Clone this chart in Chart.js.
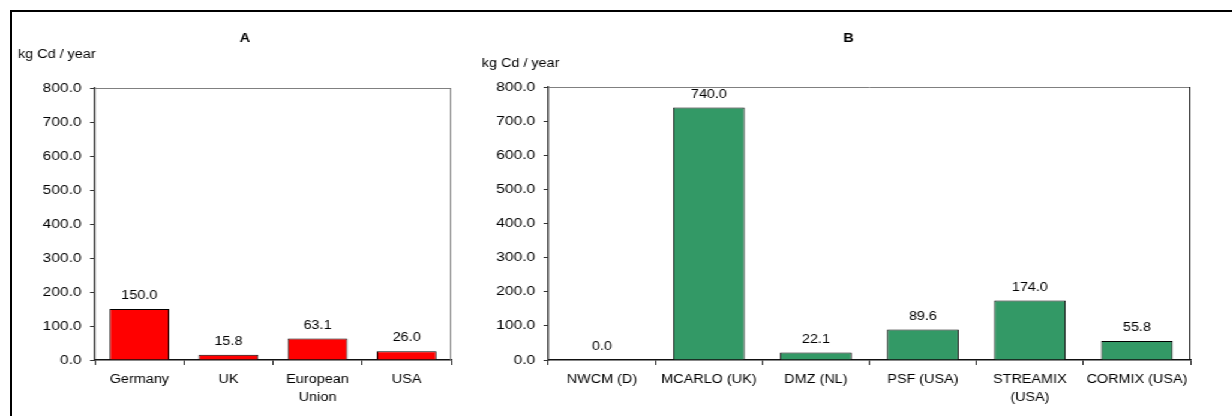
<!DOCTYPE html>
<html>
<head>
<meta charset="utf-8">
<script src="https://cdn.jsdelivr.net/npm/chart.js@4.4.0/dist/chart.umd.min.js"></script>
<style>
  body { margin: 0; background: #fff; overflow: hidden; }
  #frame { position: absolute; left: 10px; top: 10px; width: 1240px; height: 420px; border-top: 2px solid #000; border-left: 2px solid #000; }
  /* the reference is stretched sideways, so the whole stage is too */
  #stage { position: absolute; left: 0; top: 0; width: 1027px; height: 416px; transform: scaleX(1.2); transform-origin: 0 0; }
  #boxA { position: absolute; left: 0; top: 0; width: 400px; height: 416px; }
  #boxB { position: absolute; left: 400px; top: 0; width: 620px; height: 416px; }
</style>
</head>
<body>
<div id="frame"></div>
<div id="stage">
  <div id="boxA"><canvas id="chartA"></canvas></div>
  <div id="boxB"><canvas id="chartB"></canvas></div>
</div>
<script>
var categoriesA = ['Germany', 'UK', ['European', 'Union'], 'USA'];
var valuesA = [150.0, 15.8, 63.1, 26.0];

var categoriesB = ['NWCM (D)', 'MCARLO (UK)', 'DMZ (NL)', 'PSF (USA)', ['STREAMIX', '(USA)'], 'CORMIX (USA)'];
var valuesB = [0.0, 740.0, 22.1, 89.6, 174.0, 55.8];

var yMin = 0, yMax = 800, yStep = 100;
var unitLabel = 'kg Cd / year';

var FONT = 'Arial, "Liberation Sans", sans-serif';

// titles, unit text, plot frame and value labels
var panelText = {
  id: 'panelText',
  afterDraw: function(chart, args, opts) {
    var ctx = chart.ctx;
    var area = chart.chartArea;
    ctx.save();

    ctx.lineWidth = 1;
    ctx.strokeStyle = '#808080';
    ctx.beginPath();
    ctx.moveTo(area.left, area.top + 0.5);
    ctx.lineTo(area.right, area.top + 0.5);
    ctx.stroke();
    ctx.strokeStyle = opts.rightColor;
    ctx.beginPath();
    ctx.moveTo(area.right - 0.5, area.top);
    ctx.lineTo(area.right - 0.5, area.bottom);
    ctx.stroke();

    ctx.fillStyle = '#000';
    ctx.font = 'bold 12px ' + FONT;
    ctx.textAlign = 'center';
    ctx.textBaseline = 'middle';
    ctx.fillText(opts.title, opts.titleX, 39);

    ctx.font = '12px ' + FONT;
    ctx.textAlign = 'left';
    ctx.fillText(unitLabel, opts.unitX, opts.unitY);

    ctx.textAlign = 'center';
    var vals = chart.data.datasets[0].data;
    chart.getDatasetMeta(0).data.forEach(function(bar, i) {
      ctx.fillText(vals[i].toFixed(1), bar.x, bar.y - 13);
    });
    ctx.restore();
  }
};

function makePanel(canvasId, labels, values, color, p) {
  return new Chart(document.getElementById(canvasId), {
    type: 'bar',
    data: {
      labels: labels,
      datasets: [{
        data: values,
        backgroundColor: color,
        borderColor: '#000',
        borderWidth: 1,
        categoryPercentage: 1,
        barPercentage: 0.67
      }]
    },
    options: {
      responsive: true,
      maintainAspectRatio: false,
      animation: false,
      layout: { padding: { top: p.top, right: p.right, bottom: 0, left: 0 } },
      plugins: {
        legend: { display: false },
        tooltip: { enabled: false },
        panelText: p
      },
      scales: {
        x: {
          grid: { drawOnChartArea: false, tickLength: 5, color: '#222' },
          border: { color: '#111', width: 1.5 },
          ticks: { color: '#000', padding: 6, maxRotation: 0, autoSkip: false, font: { family: FONT, size: 12, lineHeight: 1.5 } },
          afterFit: function(scale) { scale.height = 416 - 360; }
        },
        y: {
          min: yMin,
          max: yMax,
          grid: { drawOnChartArea: false, tickLength: 4, color: '#333' },
          border: { color: '#333', width: 1.4 },
          ticks: {
            stepSize: yStep,
            color: '#000',
            padding: 7,
            font: { family: FONT, size: 13 },
            callback: function(value) { return value.toFixed(1); }
          },
          afterFit: function(scale) { scale.width = p.axisWidth; }
        }
      }
    },
    plugins: [panelText]
  });
}

var chartA = makePanel('chartA', categoriesA, valuesA, '#FF0000', {
  title: 'A', titleX: 204, unitX: 15, unitY: 55,
  top: 88, right: 24, axisWidth: 79, rightColor: '#808080'
});

var chartB = makePanel('chartB', categoriesB, valuesB, '#339966', {
  title: 'B', titleX: 307, unitX: 1.5, unitY: 64,
  top: 87, right: 28, axisWidth: 57, rightColor: '#111'
});
</script>
</body>
</html>
